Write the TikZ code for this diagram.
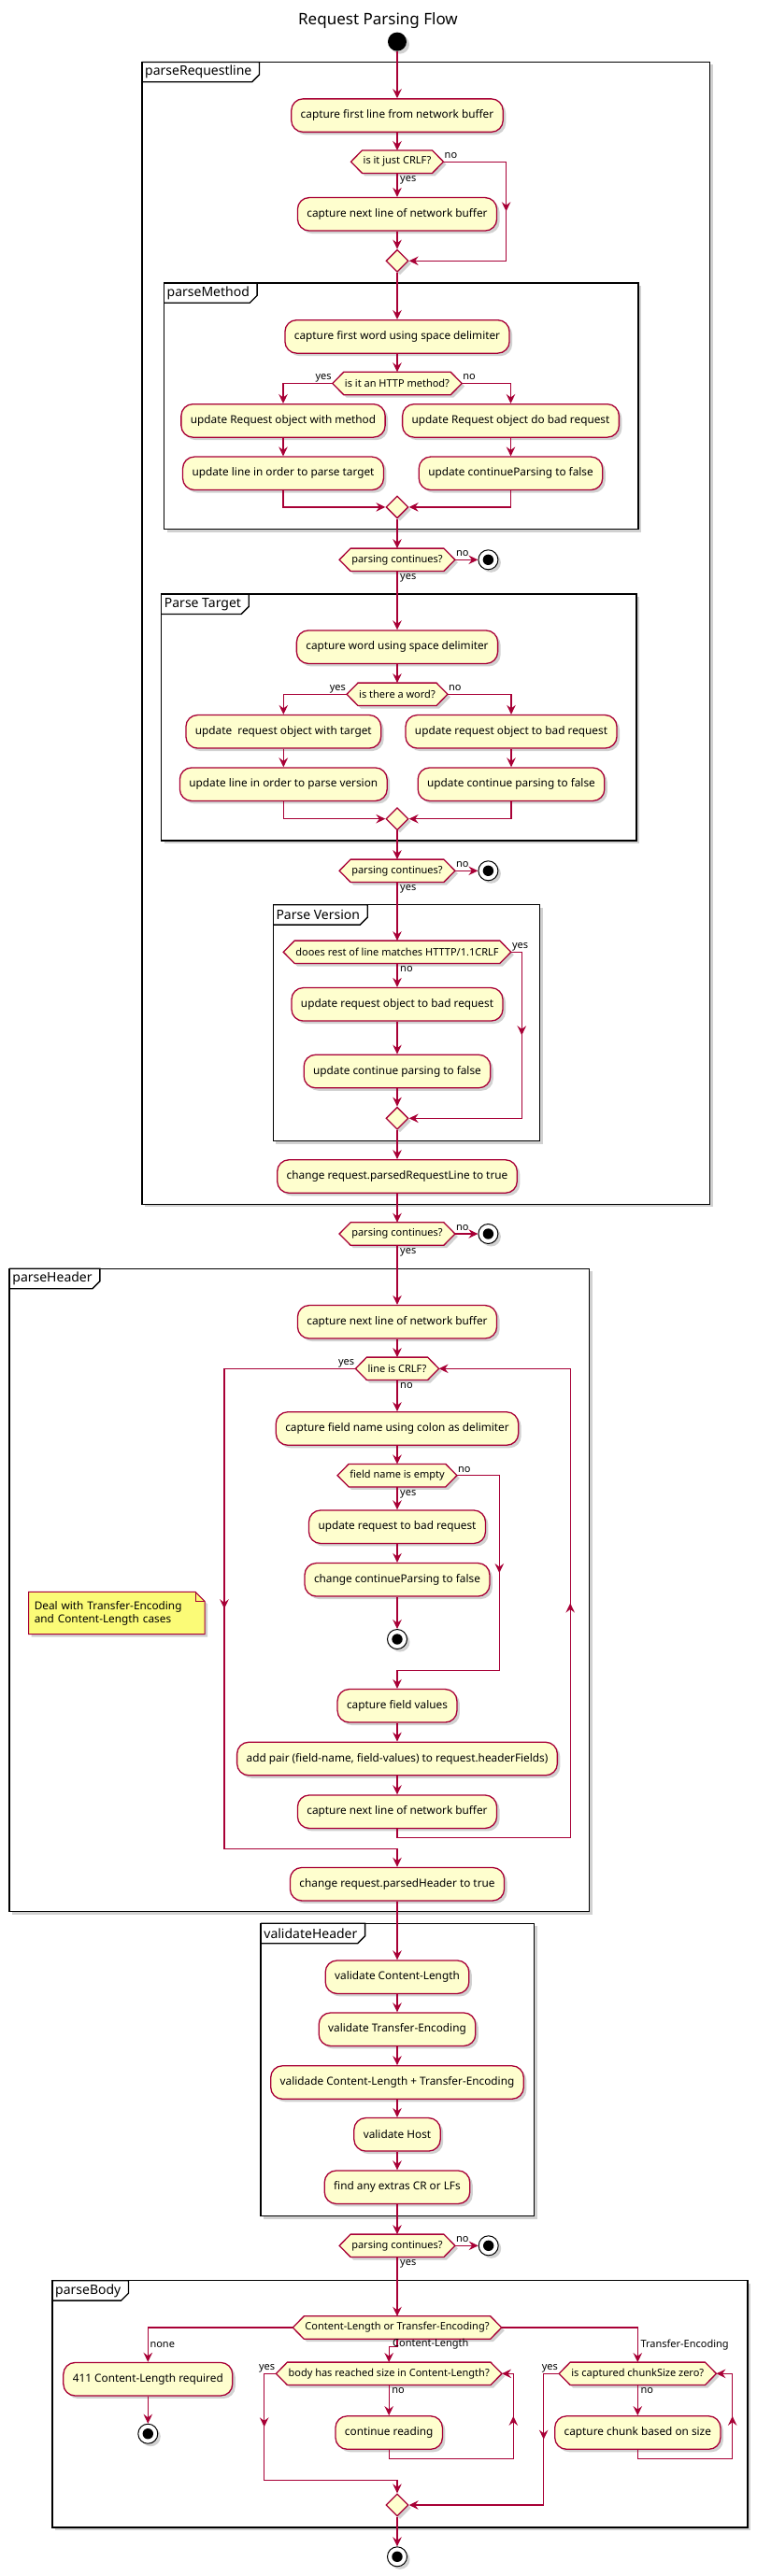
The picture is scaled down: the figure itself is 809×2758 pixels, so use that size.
\documentclass[tikz,border=0pt]{standalone}
\usepackage{fontspec}
\setmainfont{Noto Sans}
\usetikzlibrary{arrows.meta,shapes.geometric,shadows,decorations.markings}
\definecolor{pumlred}{HTML}{A80036}
\definecolor{pumlfill}{HTML}{FEFECE}
\definecolor{notefill}{HTML}{FBFB77}
\newcommand{\boxfont}{\fontsize{11.8}{14}\selectfont}
\newcommand{\lblfont}{\fontsize{11}{13}\selectfont}
\newcommand{\framefont}{\fontsize{14}{16}\selectfont}
\newcommand{\titlefont}{\fontsize{17}{20}\selectfont}
\pgfdeclarelayer{frames}
\pgfdeclarelayer{shapes}
\pgfsetlayers{frames,shapes,main}
\tikzset{
  shad/.style={drop shadow={shadow xshift=3pt, shadow yshift=-3pt, fill=black, opacity=0.18}},
  actbox/.style={rectangle, rounded corners=12.5pt, draw=pumlred, fill=pumlfill, line width=1.3pt, minimum height=35.5pt, inner xsep=10pt, inner ysep=0pt, font=\boxfont, shad},
  hexnode/.style={rectangle, inner xsep=13pt, inner ysep=0pt, minimum height=24pt, font=\lblfont},
  hexline/.style={draw=pumlred, fill=pumlfill, line width=1.3pt, line join=miter, shad},
  merge/.style={diamond, draw=pumlred, fill=pumlfill, line width=1.3pt, minimum width=24pt, minimum height=24pt, inner sep=0pt, shad},
  startnode/.style={circle, fill=black, minimum size=20pt, inner sep=0pt, shad},
  stopnode/.style={circle, draw=black, fill=white, line width=1pt, minimum size=21pt, inner sep=0pt, shad, path picture={\fill[black] (path picture bounding box.center) circle (5.7pt);}},
  lbl/.style={font=\lblfont, inner sep=1pt, text height=8pt, text depth=2.5pt},
  conn/.style={draw=pumlred, line width=1.2pt},
  arr/.style={conn, -{Stealth[length=10pt, width=9.5pt, inset=3.5pt]}},
  midarr/.style={postaction={decorate}, decoration={markings, mark=at position 0.5 with {\arrow[pumlred]{Stealth[length=10pt, width=9.5pt, inset=3.5pt]}}}},
  framebox/.style={draw=black, line width=1.5pt, fill=white, shad},
  frametab/.style={draw=black, line width=1.3pt},
  flabel/.style={font=\framefont, anchor=north west, inner xsep=3pt, inner ysep=0pt, minimum height=21pt},
  notetext/.style={font=\boxfont, anchor=north west, text width=176pt, align=left, inner xsep=6pt, inner ysep=4pt, minimum height=45pt},
}
\newcommand{\hexdraw}[1]{\path[hexline] (#1.west) -- ([xshift=12pt]#1.north west) -- ([xshift=-12pt]#1.north east) -- (#1.east) -- ([xshift=-12pt]#1.south east) -- ([xshift=12pt]#1.south west) -- cycle;}
\newcommand{\drawframe}[6]{%
  \draw[framebox] (#2,#3) rectangle (#4,#5);
  \node[flabel] (#1) at (#2,#3) {#6};
  \draw[frametab] (#1.north west) -- ([xshift=5pt]#1.north east) -- ([xshift=5pt,yshift=8pt]#1.south east) -- ([xshift=-3pt]#1.south east) -- (#1.south west);}
\begin{document}
\begin{tikzpicture}[x=1pt,y=-1pt]
\useasboundingbox (0,0) rectangle (809,2758);

\begin{pgfonlayer}{frames}
\drawframe{F1}{152}{66.4}{759.6}{1289.3}{parseRequestline}
\drawframe{F2}{175.5}{302.9}{683}{566.7}{parseMethod}
\drawframe{F3}{172.7}{636}{680.8}{900}{Parse Target}
\drawframe{F4}{292.3}{968.7}{577.7}{1221.7}{Parse Version}
\drawframe{F5}{10.2}{1358.3}{630.6}{2046.7}{parseHeader}
\drawframe{F6}{279.2}{2059.3}{571.6}{2372.7}{validateHeader}
\drawframe{F7}{56}{2441.7}{800}{2706}{parseBody}
\end{pgfonlayer}

\node[font=\titlefont] (title) at (404.5,22) {Request Parsing Flow};
\node[startnode] (st) at (425,44.6) {};

% parseRequestline
\node[actbox] (b1) at (425,123.6) {capture first line from network buffer};
\node[hexnode] (d1) at (425,173.2) {is it just CRLF?};
\node[actbox] (b2) at (425,229.3) {capture next line of network buffer};
\node[merge] (m1) at (425,279.3) {};
\node[actbox] (b3) at (425,360.4) {capture first word using space delimiter};
\node[hexnode] (d2) at (425,410.5) {is it an HTTP method?};
\node[actbox] (b4) at (303,450.4) {update Request object with method};
\node[actbox] (b5) at (546.5,450.4) {update Request object do bad request};
\node[actbox] (b6) at (303,506.8) {update line in order to parse target};
\node[actbox] (b7) at (546.5,506.8) {update continueParsing to false};
\node[merge] (m2) at (425,542.9) {};
\node[hexnode] (pc1) at (425,599.3) {parsing continues?};
\node[stopnode] (s1) at (522.4,599.3) {};
\node[actbox] (b8) at (425,692.7) {capture word using space delimiter};
\node[hexnode] (d3) at (425,743.3) {is there a word?};
\node[actbox] (b9) at (303.3,783.3) {update\ \ request object with target};
\node[actbox] (b10) at (547,783.3) {update request object to bad request};
\node[actbox] (b11) at (303.3,839.7) {update line in order to parse version};
\node[actbox] (b12) at (547,839.7) {update continue parsing to false};
\node[merge] (m3) at (425,876.7) {};
\node[hexnode] (pc2) at (425,932.3) {parsing continues?};
\node[stopnode] (s2) at (522.4,932.3) {};
\node[hexnode] (d4) at (425,1019.3) {dooes rest of line matches HTTTP/1.1CRLF};
\node[actbox] (b13) at (425,1075.3) {update request object to bad request};
\node[actbox] (b14) at (425,1147) {update continue parsing to false};
\node[merge] (m4) at (425,1197.3) {};
\node[actbox] (b15) at (425,1259.5) {change request.parsedRequestLine to true};
\node[hexnode] (pc3) at (425,1321) {parsing continues?};
\node[stopnode] (s3) at (522.4,1321) {};

% parseHeader
\node[actbox] (b16) at (425,1415.3) {capture next line of network buffer};
\node[hexnode] (d5) at (425,1465.3) {line is CRLF?};
\node[actbox] (b17) at (425,1529.5) {capture field name using colon as delimiter};
\node[hexnode] (d6) at (425,1579.7) {field name is empty};
\node[actbox] (b18) at (425,1634.7) {update request to bad request};
\node[actbox] (b19) at (425,1691.3) {change continueParsing to false};
\node[stopnode] (s4) at (425,1755) {};
\node[actbox] (b20) at (425,1826.3) {capture field values};
\node[actbox] (b21) at (425,1883) {add pair (field-name, field-values) to request.headerFields)};
\node[actbox] (b22) at (425,1939.7) {capture next line of network buffer};
\node[actbox] (b23) at (425,2017.2) {change request.parsedHeader to true};
\node[notetext] (n1) at (30.6,1704.3) {Deal with Transfer-Encoding\\and Content-Length cases};

% validateHeader
\node[actbox] (b24) at (425,2116.7) {validate Content-Length};
\node[actbox] (b25) at (425,2172.7) {validate Transfer-Encoding};
\node[actbox] (b26) at (425,2229.5) {validade Content-Length + Transfer-Encoding};
\node[actbox] (b27) at (425,2285.3) {validate Host};
\node[actbox] (b28) at (425,2341.7) {find any extras CR or LFs};
\node[hexnode] (pc4) at (425,2404.3) {parsing continues?};
\node[stopnode] (s5) at (522.7,2404.3) {};

% parseBody
\node[hexnode] (d7) at (425,2492) {Content-Length or Transfer-Encoding?};
\node[actbox] (b29) at (158.3,2547.2) {411 Content-Length required};
\node[stopnode] (s6) at (158.3,2605.7) {};
\node[hexnode] (d8) at (416.2,2541.3) {body has reached size in Content-Length?};
\node[actbox] (b30) at (416.2,2604.5) {continue reading};
\node[hexnode] (d9) at (682.3,2541.3) {is captured chunkSize zero?};
\node[actbox] (b31) at (682.3,2604.5) {capture chunk based on size};
\node[merge] (m5) at (425,2682) {};
\node[stopnode] (s7) at (425,2737.3) {};

\begin{pgfonlayer}{shapes}
\hexdraw{d1}\hexdraw{d2}\hexdraw{pc1}\hexdraw{d3}\hexdraw{pc2}\hexdraw{d4}
\hexdraw{pc3}\hexdraw{d5}\hexdraw{d6}\hexdraw{pc4}\hexdraw{d7}\hexdraw{d8}\hexdraw{d9}
\path[draw=pumlred, fill=notefill, line width=1pt, shad] (n1.north west) -- ([xshift=-10pt]n1.north east) -- ([yshift=-10pt]n1.north east) -- (n1.south east) -- (n1.south west) -- cycle;
\draw[pumlred, line width=1pt] ([xshift=-10pt]n1.north east) -- ([xshift=-10pt,yshift=-10pt]n1.north east) -- ([yshift=-10pt]n1.north east);
\end{pgfonlayer}

% connectors: parseRequestline
\draw[arr] (st) -- (b1);
\draw[arr] (b1) -- (d1);
\draw[arr] (d1) -- (b2);
\draw[arr] (b2) -- (m1);
\coordinate (r1) at (541.6,173.2);
\draw[arr] (d1.east) -- (r1) |- (m1.east);
\draw[conn, midarr] (r1) -- (r1 |- m1.east);
\draw[arr] (m1) -- (b3);
\draw[arr] (b3) -- (d2);
\draw[arr] (d2.west) -| (b4.north);
\draw[arr] (d2.east) -| (b5.north);
\draw[arr] (b4) -- (b6);
\draw[arr] (b5) -- (b7);
\draw[arr] (b6.south) |- (m2.west);
\draw[arr] (b7.south) |- (m2.east);
\draw[arr] (m2) -- (pc1);
\draw[arr] (pc1.east) -- (s1);
\draw[arr] (pc1) -- (b8);
\draw[arr] (b8) -- (d3);
\draw[arr] (d3.west) -| (b9.north);
\draw[arr] (d3.east) -| (b10.north);
\draw[arr] (b9) -- (b11);
\draw[arr] (b10) -- (b12);
\draw[arr] (b11.south) |- (m3.west);
\draw[arr] (b12.south) |- (m3.east);
\draw[arr] (m3) -- (pc2);
\draw[arr] (pc2.east) -- (s2);
\draw[arr] (pc2) -- (d4);
\draw[arr] (d4) -- (b13);
\draw[arr] (b13) -- (b14);
\draw[arr] (b14) -- (m4);
\coordinate (r4) at (558.3,1019.3);
\draw[arr] (d4.east) -- (r4) |- (m4.east);
\draw[conn, midarr] (r4) -- (r4 |- m4.east);
\draw[arr] (m4) -- (b15);
\draw[arr] (b15) -- (pc3);
\draw[arr] (pc3.east) -- (s3);
\draw[arr] (pc3) -- (b16);

% parseHeader
\draw[arr] (b16) -- (d5);
\draw[arr] (d5) -- (b17);
\draw[arr] (b17) -- (d6);
\draw[arr] (d6) -- (b18);
\draw[arr] (b18) -- (b19);
\draw[arr] (b19) -- (s4);
\coordinate (r6) at (534.3,1579.7);
\coordinate (j6) at (534.3,1788.3);
\draw[arr] (d6.east) -- (r6) -- (j6) -| (b20.north);
\draw[conn, midarr] (r6) -- (j6);
\draw[arr] (b20) -- (b21);
\draw[arr] (b21) -- (b22);
\coordinate (l5) at (610.2,1967.7);
\draw[arr] (b22.south) |- (l5) |- (d5.east);
\draw[conn, midarr] (l5) -- (l5 |- d5.east);
\coordinate (y5) at (240,1465.3);
\coordinate (y5b) at (240,1979.3);
\draw[arr] (d5.west) -- (y5) -- (y5b) -| (b23.north);
\draw[conn, midarr] (y5) -- (y5b);

% validateHeader
\draw[arr] (b23) -- (b24);
\draw[arr] (b24) -- (b25);
\draw[arr] (b25) -- (b26);
\draw[arr] (b26) -- (b27);
\draw[arr] (b27) -- (b28);
\draw[arr] (b28) -- (pc4);
\draw[arr] (pc4.east) -- (s5);
\draw[arr] (pc4) -- (d7);

% parseBody
\draw[arr] (d7.west) -| (b29.north);
\draw[arr] (b29) -- (s6);
\coordinate (cl) at (425,2512.3);
\draw[arr] (d7.south) -- (cl) -| (d8.north);
\draw[arr] (d7.east) -| (d9.north);
\coordinate (y8) at (282.7,2541.3);
\coordinate (y8b) at (282.7,2655.3);
\draw[arr] (d8.west) -- (y8) -- (y8b) -| (m5.north);
\draw[conn, midarr] (y8) -- (y8b);
\draw[arr] (d8) -- (b30);
\coordinate (l8) at (549.3,2632.3);
\draw[arr] (b30.south) |- (l8) |- (d8.east);
\draw[conn, midarr] (l8) -- (l8 |- d8.east);
\coordinate (y9) at (581.7,2541.3);
\draw[arr] (d9.west) -- (y9) |- (m5.east);
\draw[conn, midarr] (y9) -- (y9 |- m5.east);
\draw[arr] (d9) -- (b31);
\coordinate (l9) at (783.7,2632.3);
\draw[arr] (b31.south) |- (l9) |- (d9.east);
\draw[conn, midarr] (l9) -- (l9 |- d9.east);
\draw[arr] (m5) -- (s7);

% labels
\node[lbl, anchor=north west] (t1) at ([xshift=2pt]d1.south) {yes};
\node[lbl, anchor=south west] (t2) at (d1.east) {no};
\node[lbl, anchor=south east] (t3) at (d2.west) {yes};
\node[lbl, anchor=south west] (t4) at (d2.east) {no};
\node[lbl, anchor=south west] (t5) at (pc1.east) {no};
\node[lbl, anchor=north west] (t6) at ([xshift=2pt]pc1.south) {yes};
\node[lbl, anchor=south east] (t7) at (d3.west) {yes};
\node[lbl, anchor=south west] (t8) at (d3.east) {no};
\node[lbl, anchor=south west] (t9) at (pc2.east) {no};
\node[lbl, anchor=north west] (t10) at ([xshift=2pt]pc2.south) {yes};
\node[lbl, anchor=south west] (t11) at (d4.east) {yes};
\node[lbl, anchor=north west] (t12) at ([xshift=2pt]d4.south) {no};
\node[lbl, anchor=south west] (t13) at (pc3.east) {no};
\node[lbl, anchor=north west] (t14) at ([xshift=2pt]pc3.south) {yes};
\node[lbl, anchor=south east] (t15) at (d5.west) {yes};
\node[lbl, anchor=north west] (t16) at ([xshift=2pt]d5.south) {no};
\node[lbl, anchor=south west] (t17) at (d6.east) {no};
\node[lbl, anchor=north west] (t18) at ([xshift=2pt]d6.south) {yes};
\node[lbl, anchor=south west] (t19) at (pc4.east) {no};
\node[lbl, anchor=north west] (t20) at ([xshift=2pt]pc4.south) {yes};
\coordinate (cn) at (d7.west -| b29.north);
\coordinate (ct) at (d7.east -| d9.north);
\node[lbl, anchor=north west] (t21) at ([xshift=1pt,yshift=-12pt]cn) {none};
\node[lbl, anchor=north west] (t22) at ([xshift=2pt,yshift=-12pt]ct) {Transfer-Encoding};
\node[lbl, anchor=west] (t23) at ([xshift=-6pt,yshift=-5.3pt]d7.south) {Content-Length};
\node[lbl, anchor=south east] (t24) at (d8.west) {yes};
\node[lbl, anchor=north west] (t25) at ([xshift=2pt]d8.south) {no};
\node[lbl, anchor=south east] (t26) at (d9.west) {yes};
\node[lbl, anchor=north west] (t27) at ([xshift=2pt]d9.south) {no};
\end{tikzpicture}
\end{document}
